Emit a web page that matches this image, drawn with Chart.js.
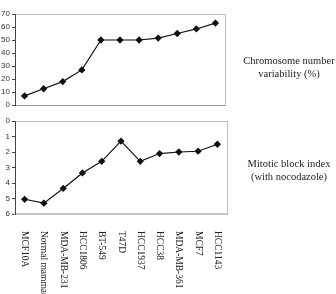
<!DOCTYPE html>
<html>
<head>
<meta charset="utf-8">
<script src="https://cdn.jsdelivr.net/npm/chart.js@4.4.1/dist/chart.umd.min.js"></script>
<style>
  body { margin: 0; background: #fff; }
  #wrap { position: relative; width: 336px; height: 294px; overflow: hidden; }
  canvas { position: absolute; left: 0; top: 0; }
  .note { position: absolute; font-family: "Liberation Serif", serif; font-size: 10.5px; color: #222; text-align: center; line-height: 13px; white-space: nowrap; }
</style>
</head>
<body>
<div id="wrap">
  <canvas id="top-chart" width="336" height="294"></canvas>
  <canvas id="bottom-chart" width="336" height="294"></canvas>
  <div class="note" style="left:237px; top:54px; width:104px;">Chromosome number<br>variability (%)</div>
  <div class="note" style="left:237px; top:157px; width:104px;">Mitotic block index<br>(with nocodazole)</div>
</div>
<script>
const cellLines = ['MCF10A', 'Normal mammary', 'MDA-MB-231', 'HCC1806', 'BT-549', 'T47D',
    'HCC1937', 'HCC38', 'MDA-MB-361', 'MCF7', 'HCC1143'];
const variability = [7, 12.5, 18, 27, 50, 50, 50, 51.5, 55, 58.5, 63];
const mitoticIndex = [5.05, 5.3, 4.35, 3.35, 2.6, 1.3, 2.6, 2.1, 2.0, 1.95, 1.5];
const variabilityTicks = [0, 10, 20, 30, 40, 50, 60, 70];
const mitoticTicks = [0, 1, 2, 3, 4, 5, 6];

const frame = {
    id: 'frame',
    beforeDraw(chart) {
        const a = chart.chartArea;
        const ctx = chart.ctx;
        ctx.save();
        ctx.strokeStyle = '#bdbdbd';
        ctx.lineWidth = 1;
        ctx.strokeRect(a.left + 0.5, a.top + 0.5, a.right - a.left, a.bottom - a.top);
        ctx.restore();
    }
};

const rotatedLabels = {
    id: 'rotatedLabels',
    afterDraw(chart) {
        const ctx = chart.ctx;
        const xs = chart.scales.x;
        ctx.save();
        ctx.fillStyle = '#222';
        ctx.font = '9.5px "Liberation Serif", serif';
        ctx.textAlign = 'left';
        ctx.textBaseline = 'middle';
        cellLines.forEach((label, i) => {
            ctx.save();
            ctx.translate(xs.getPixelForValue(i), 231);
            ctx.rotate(Math.PI / 2);
            ctx.fillText(label, 0, 0);
            ctx.restore();
        });
        ctx.restore();
    }
};

function makeOptions(yOpts, padding, bottomColor, bottomWidth) {
    return {
        responsive: false,
        animation: false,
        layout: { padding: padding },
        plugins: { legend: { display: false }, tooltip: { enabled: false } },
        scales: {
            x: {
                offset: true,
                ticks: { display: false },
                grid: { display: false },
                border: { color: bottomColor, width: bottomWidth },
                afterFit: (s) => { s.height = 0; }
            },
            y: Object.assign({
                grid: { drawOnChartArea: false, tickLength: 3, color: '#444' },
                border: { color: '#444', dash: [1, 1] },
                ticks: {
                    color: '#333',
                    padding: 2,
                    autoSkip: false,
                    font: { family: 'Liberation Sans', size: 8 }
                },
                afterFit: (s) => { s.width = 15; }
            }, yOpts)
        }
    };
}

function lineDataset(values) {
    return {
        data: values,
        borderColor: '#111',
        borderWidth: 1.2,
        pointStyle: 'rectRot',
        pointRadius: 2.8,
        pointBackgroundColor: '#111',
        pointBorderColor: '#111',
        tension: 0
    };
}

new Chart(document.getElementById('top-chart'), {
    type: 'line',
    data: { labels: cellLines, datasets: [lineDataset(variability)] },
    options: makeOptions({
        min: 0, max: 70,
        afterBuildTicks: (s) => { s.ticks = variabilityTicks.map(v => ({ value: v })); }
    }, { left: 0, top: 14, right: 111, bottom: 189 }, '#999', 1),
    plugins: [frame]
});

new Chart(document.getElementById('bottom-chart'), {
    type: 'line',
    data: { labels: cellLines, datasets: [lineDataset(mitoticIndex)] },
    options: makeOptions({
        min: 0, max: 6, reverse: true,
        afterBuildTicks: (s) => { s.ticks = mitoticTicks.map(v => ({ value: v })); }
    }, { left: 0, top: 121, right: 109, bottom: 80 }, '#c4c4c4', 2),
    plugins: [frame, rotatedLabels]
});
</script>
</body>
</html>
